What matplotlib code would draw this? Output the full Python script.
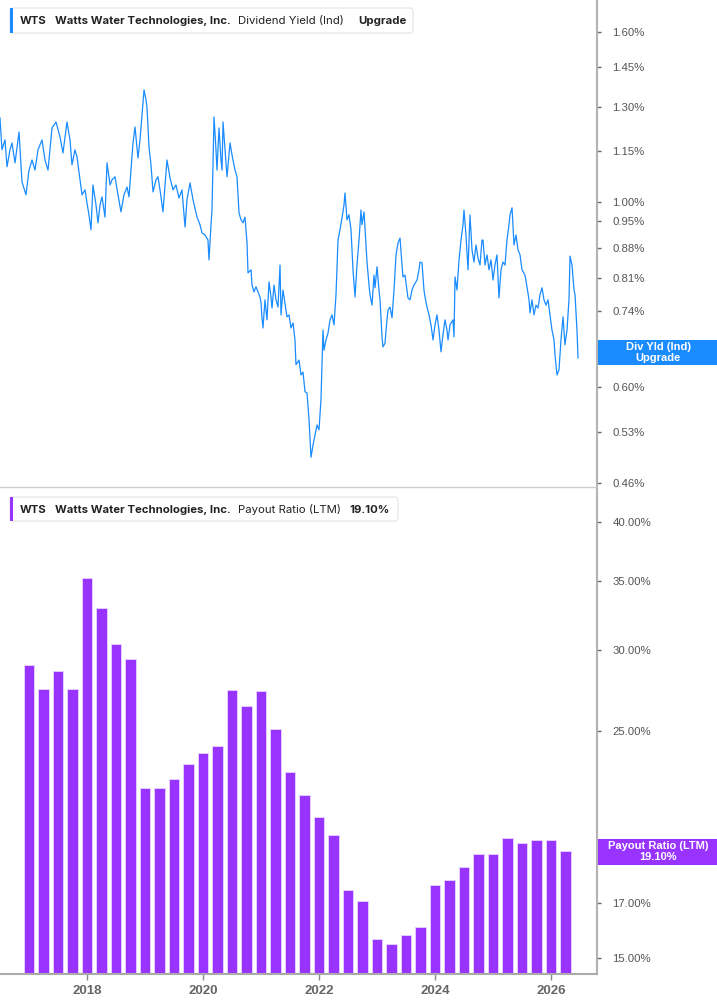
import numpy as np
import matplotlib
matplotlib.use('Agg')
import matplotlib.pyplot as plt
from matplotlib.patches import FancyBboxPatch, Rectangle
from matplotlib.ticker import FixedLocator, NullLocator, FuncFormatter

# dividend yield (%), dates as decimal years
yield_dates = [
    2016.500, 2016.534, 2016.586, 2016.621, 2016.672, 2016.707, 2016.759, 2016.828, 2016.879, 2016.948,
    2017.000, 2017.052, 2017.103, 2017.155, 2017.224, 2017.276, 2017.328, 2017.397, 2017.466, 2017.534,
    2017.586, 2017.655, 2017.707, 2017.741, 2017.793, 2017.828, 2017.879, 2017.914, 2017.966, 2018.000,
    2018.034, 2018.069, 2018.103, 2018.155, 2018.190, 2018.224, 2018.259, 2018.310, 2018.345, 2018.397,
    2018.431, 2018.483, 2018.534, 2018.586, 2018.638, 2018.690, 2018.724, 2018.759, 2018.793, 2018.828,
    2018.879, 2018.914, 2018.948, 2018.983, 2019.017, 2019.034, 2019.069, 2019.103, 2019.138, 2019.190,
    2019.224, 2019.259, 2019.310, 2019.345, 2019.379, 2019.431, 2019.483, 2019.534, 2019.586, 2019.638,
    2019.690, 2019.724, 2019.776, 2019.828, 2019.897, 2019.948, 2019.983, 2020.034, 2020.086, 2020.103,
    2020.138, 2020.155, 2020.190, 2020.224, 2020.241, 2020.276, 2020.310, 2020.328, 2020.345, 2020.379,
    2020.414, 2020.466, 2020.500, 2020.552, 2020.586, 2020.621, 2020.655, 2020.690, 2020.724, 2020.759,
    2020.776, 2020.828, 2020.845, 2020.879, 2020.914, 2020.948, 2020.983, 2021.000, 2021.017, 2021.034,
    2021.069, 2021.103, 2021.138, 2021.172, 2021.190, 2021.224, 2021.259, 2021.293, 2021.328, 2021.345,
    2021.379, 2021.397, 2021.448, 2021.483, 2021.517, 2021.552, 2021.586, 2021.603, 2021.655, 2021.690,
    2021.724, 2021.759, 2021.793, 2021.828, 2021.862, 2021.897, 2021.931, 2021.966, 2022.000, 2022.034,
    2022.069, 2022.086, 2022.121, 2022.155, 2022.190, 2022.224, 2022.259, 2022.293, 2022.328, 2022.362,
    2022.397, 2022.431, 2022.448, 2022.483, 2022.517, 2022.552, 2022.586, 2022.621, 2022.655, 2022.690,
    2022.724, 2022.741, 2022.776, 2022.810, 2022.828, 2022.862, 2022.879, 2022.914, 2022.948, 2022.966,
    2023.000, 2023.034, 2023.052, 2023.086, 2023.103, 2023.138, 2023.172, 2023.190, 2023.224, 2023.259,
    2023.293, 2023.328, 2023.362, 2023.397, 2023.431, 2023.448, 2023.483, 2023.517, 2023.534, 2023.569,
    2023.603, 2023.638, 2023.690, 2023.724, 2023.741, 2023.776, 2023.810, 2023.828, 2023.862, 2023.897,
    2023.931, 2023.966, 2024.000, 2024.034, 2024.069, 2024.103, 2024.138, 2024.172, 2024.207, 2024.224,
    2024.259, 2024.310, 2024.328, 2024.345, 2024.379, 2024.414, 2024.448, 2024.483, 2024.500, 2024.534,
    2024.569, 2024.603, 2024.638, 2024.672, 2024.707, 2024.741, 2024.776, 2024.810, 2024.828, 2024.862,
    2024.897, 2024.931, 2024.966, 2025.000, 2025.034, 2025.069, 2025.103, 2025.138, 2025.172, 2025.207,
    2025.241, 2025.276, 2025.293, 2025.328, 2025.362, 2025.397, 2025.431, 2025.466, 2025.500, 2025.552,
    2025.586, 2025.621, 2025.638, 2025.672, 2025.707, 2025.741, 2025.776, 2025.810, 2025.845, 2025.879,
    2025.914, 2025.948, 2025.983, 2026.017, 2026.052, 2026.069, 2026.103, 2026.138, 2026.172, 2026.207,
    2026.241, 2026.276, 2026.310, 2026.328, 2026.362, 2026.397, 2026.414, 2026.448, 2026.466,
]
yield_values = [
    1.261, 1.155, 1.187, 1.102, 1.155, 1.177, 1.114, 1.213, 1.057, 1.020,
    1.092, 1.123, 1.092, 1.155, 1.187, 1.123, 1.092, 1.227, 1.247, 1.197,
    1.145, 1.247, 1.187, 1.108, 1.155, 1.132, 1.063, 1.020, 1.034, 0.997,
    0.965, 0.926, 1.048, 0.992, 0.944, 0.992, 1.014, 0.959, 1.114, 1.048,
    1.063, 1.072, 1.020, 0.973, 1.020, 1.042, 1.014, 1.092, 1.177, 1.230,
    1.129, 1.187, 1.272, 1.363, 1.326, 1.300, 1.164, 1.108, 1.028, 1.063,
    1.072, 1.034, 0.973, 1.048, 1.123, 1.069, 1.034, 1.048, 1.011, 1.034,
    0.933, 1.006, 1.054, 1.006, 0.959, 0.939, 0.918, 0.913, 0.900, 0.852,
    0.939, 0.978, 1.265, 1.155, 1.092, 1.227, 1.123, 1.092, 1.247, 1.155,
    1.072, 1.177, 1.139, 1.092, 1.072, 0.970, 0.952, 0.944, 0.959, 0.893,
    0.822, 0.829, 0.795, 0.780, 0.791, 0.780, 0.769, 0.757, 0.726, 0.706,
    0.763, 0.722, 0.802, 0.769, 0.746, 0.795, 0.763, 0.748, 0.840, 0.732,
    0.784, 0.769, 0.728, 0.732, 0.706, 0.716, 0.683, 0.638, 0.646, 0.620,
    0.625, 0.592, 0.590, 0.548, 0.494, 0.511, 0.525, 0.540, 0.533, 0.579,
    0.702, 0.664, 0.683, 0.696, 0.722, 0.732, 0.712, 0.774, 0.900, 0.926,
    0.957, 0.992, 1.025, 0.952, 0.965, 0.926, 0.829, 0.769, 0.840, 0.900,
    0.978, 0.939, 0.973, 0.888, 0.847, 0.795, 0.774, 0.752, 0.817, 0.789,
    0.836, 0.784, 0.763, 0.689, 0.670, 0.677, 0.722, 0.742, 0.748, 0.726,
    0.784, 0.864, 0.893, 0.905, 0.840, 0.813, 0.817, 0.784, 0.767, 0.763,
    0.784, 0.795, 0.806, 0.829, 0.847, 0.845, 0.784, 0.769, 0.748, 0.732,
    0.712, 0.683, 0.712, 0.732, 0.702, 0.661, 0.693, 0.722, 0.702, 0.683,
    0.712, 0.722, 0.689, 0.813, 0.784, 0.852, 0.900, 0.939, 0.978, 0.913,
    0.829, 0.965, 0.876, 0.847, 0.888, 0.857, 0.840, 0.900, 0.900, 0.840,
    0.864, 0.829, 0.852, 0.806, 0.840, 0.864, 0.767, 0.829, 0.847, 0.840,
    0.900, 0.939, 0.965, 0.984, 0.888, 0.913, 0.876, 0.864, 0.829, 0.817,
    0.791, 0.763, 0.736, 0.763, 0.732, 0.752, 0.746, 0.774, 0.789, 0.763,
    0.752, 0.763, 0.732, 0.702, 0.683, 0.655, 0.620, 0.629, 0.683, 0.728,
    0.674, 0.702, 0.763, 0.861, 0.840, 0.784, 0.774, 0.702, 0.650,
]
yield_ticks = [0.46, 0.53, 0.60, 0.67, 0.74, 0.81, 0.88, 0.95, 1.00, 1.15, 1.30, 1.45, 1.60]

# payout ratio (LTM, %), quarterly
payout_dates = [2017.0 + 0.25 * i for i in range(38)]
payout_values = [
    29.0, 27.5, 28.6, 27.5, 35.3, 33.0, 30.4, 29.4,
    22.0, 22.0, 22.45, 23.2, 23.8, 24.2, 27.4, 26.45,
    27.35, 25.1, 22.8, 21.66, 20.6, 19.8, 17.5, 17.07,
    15.67, 15.5, 15.8, 16.1, 17.7, 17.9, 18.4, 18.97,
    18.97, 19.66, 19.45, 19.58, 19.55, 19.10,
]
payout_ticks = [15.0, 17.0, 19.0, 25.0, 30.0, 35.0, 40.0]
year_ticks = [2018, 2020, 2022, 2024, 2026]

# tick labels that sit under the value tags on the right
hidden_yield = [0.67]
hidden_payout = [19.0]

W, H = 717, 1005
BLUE = '#1a8cff'
PURPLE = '#9933ff'


def fx(px):
    return px / W


def fy(py):
    return 1 - py / H


def pct_formatter(hidden):
    def fmt(v, p):
        if any(abs(v - h) < 1e-6 for h in hidden):
            return ''
        return '%.2f%%' % v
    return FuncFormatter(fmt)


fig = plt.figure(figsize=(W / 100, H / 100), dpi=100)
ax1 = fig.add_axes([0, fy(487), fx(597), 487 / H])
ax2 = fig.add_axes([0, fy(974), fx(597), (974 - 489) / H])

xlim = (2016.5, 2016.5 + 597 / 58)

for ax in (ax1, ax2):
    ax.set_yscale('log')
    ax.set_xlim(*xlim)
    ax.yaxis.tick_right()
    ax.yaxis.set_minor_locator(NullLocator())
    ax.xaxis.set_minor_locator(NullLocator())
    ax.spines['left'].set_visible(False)
    ax.spines['top'].set_visible(False)
    ax.spines['right'].set_color('#b3b3b3')
    ax.spines['right'].set_linewidth(1.5)
    ax.tick_params(axis='y', direction='out', length=3, width=1, color='#666666',
                   labelcolor='#555555', labelsize=8.2, pad=8)

# top: dividend yield
ax1.plot(yield_dates, yield_values, color=BLUE, lw=0.9)
ax1.set_ylim(0.455, 1.747)
ax1.yaxis.set_major_locator(FixedLocator(yield_ticks))
ax1.yaxis.set_major_formatter(pct_formatter(hidden_yield))
ax1.spines['bottom'].set_color('#cccccc')
ax1.spines['bottom'].set_linewidth(1)
ax1.set_xticks([])

# bottom: payout ratio bars
ax2.bar(payout_dates, np.array(payout_values) - 10, bottom=10, width=0.178,
        color=PURPLE, edgecolor='#e6d4ff', linewidth=0.6)
ax2.set_ylim(14.48, 43.08)
ax2.yaxis.set_major_locator(FixedLocator(payout_ticks))
ax2.yaxis.set_major_formatter(pct_formatter(hidden_payout))
ax2.spines['bottom'].set_color('#aaaaaa')
ax2.spines['bottom'].set_linewidth(1.5)
ax2.set_xticks(year_ticks)
ax2.set_xticklabels([str(y) for y in year_ticks])
ax2.tick_params(axis='x', direction='out', length=4, width=1, color='#888888',
                labelcolor='#666666', labelsize=9.5, pad=4)
for lab in ax2.get_xticklabels():
    lab.set_fontfamily('Liberation Sans')
    lab.set_fontweight('bold')

for ax in (ax1, ax2):
    for lab in ax.get_yticklabels():
        lab.set_fontfamily('Liberation Sans')


def legend_box(y0, y1, x1, color, parts):
    box = FancyBboxPatch((fx(10), fy(y1)), fx(x1) - fx(10), (y1 - y0) / H,
                         boxstyle='round,pad=0,rounding_size=0.004',
                         transform=fig.transFigure, facecolor='white',
                         edgecolor='#e3e3e3', linewidth=0.8, zorder=5)
    fig.patches.append(box)
    strip = Rectangle((fx(10), fy(y1)), fx(13) - fx(10), (y1 - y0) / H,
                      transform=fig.transFigure, facecolor=color,
                      edgecolor='none', zorder=6)
    fig.patches.append(strip)
    yc = fy((y0 + y1) / 2 + 0.5)
    for x, txt, bold in parts:
        fig.text(fx(x), yc, txt, ha='left', va='center', fontsize=8.2,
                 fontfamily='Inter', fontweight='bold' if bold else 'normal',
                 color='#222222', zorder=7)


legend_box(8, 33, 413, BLUE, [
    (20, 'WTS', True),
    (55, 'Watts Water Technologies, Inc.', True),
    (238, 'Dividend Yield (Ind)', False),
    (358, 'Upgrade', True),
])
legend_box(497, 521, 398, PURPLE, [
    (20, 'WTS', True),
    (55, 'Watts Water Technologies, Inc.', True),
    (238, 'Payout Ratio (LTM)', False),
    (349, '19.10%', True),
])


def value_tag(y0, y1, color, line1, line2):
    rect = Rectangle((fx(598), fy(y1)), 1 - fx(598), (y1 - y0) / H,
                     transform=fig.transFigure, facecolor=color,
                     edgecolor='none', zorder=5)
    fig.patches.append(rect)
    fig.text(fx(658), fy(y0 + 7), line1, ha='center', va='center', fontsize=8,
             fontfamily='Liberation Sans', fontweight='bold', color='white', zorder=6)
    fig.text(fx(658), fy(y0 + 18), line2, ha='center', va='center', fontsize=8,
             fontfamily='Liberation Sans', fontweight='bold', color='white', zorder=6)


value_tag(340, 365, BLUE, 'Div Yld (Ind)', 'Upgrade')
value_tag(839, 865, PURPLE, 'Payout Ratio (LTM)', '19.10%')

fig.savefig('out.png', dpi=100, facecolor='white')
